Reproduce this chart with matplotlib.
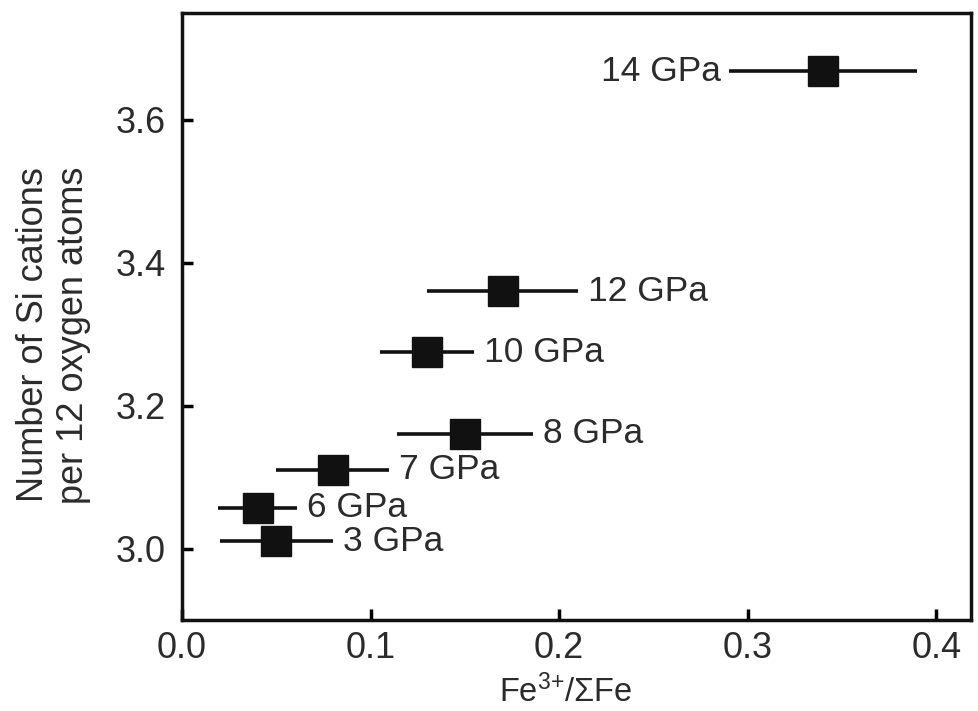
import matplotlib
matplotlib.use("Agg")
import matplotlib.pyplot as plt

# values
pressure_labels = ["3 GPa", "6 GPa", "7 GPa", "8 GPa", "10 GPa", "12 GPa", "14 GPa"]
fe3_ratio = [0.05, 0.04, 0.08, 0.15, 0.13, 0.17, 0.34]
fe3_err = [0.030, 0.021, 0.030, 0.036, 0.025, 0.040, 0.050]
si_cations = [3.010, 3.057, 3.110, 3.161, 3.275, 3.360, 3.668]
label_left = [False, False, False, False, False, False, True]

xticks = [0.0, 0.1, 0.2, 0.3, 0.4]
yticks = [3.0, 3.2, 3.4, 3.6]

plt.rcParams['font.family'] = ['Liberation Sans', 'DejaVu Sans']
plt.rcParams['mathtext.fontset'] = 'custom'
plt.rcParams['mathtext.rm'] = 'Liberation Sans'
plt.rcParams['mathtext.it'] = 'Liberation Sans'
plt.rcParams['mathtext.default'] = 'regular'
txt_col = '#2b2b2b'

fig = plt.figure(figsize=(9.79, 7.11), dpi=100)
ax = fig.add_axes([0.186, 0.128, 0.806, 0.854])

ax.errorbar(fe3_ratio, si_cations, xerr=fe3_err, fmt='s', color='#111111',
            markersize=21, elinewidth=2.6, capsize=0, zorder=3)

# pressure labels next to the bars
for x, y, e, lab, left in zip(fe3_ratio, si_cations, fe3_err, pressure_labels, label_left):
    if left:
        ax.annotate(lab, (x - e, y), xytext=(-6, 0), textcoords='offset points',
                    ha='right', va='center', fontsize=25.5, color=txt_col)
    else:
        ax.annotate(lab, (x + e, y), xytext=(7, 0), textcoords='offset points',
                    ha='left', va='center', fontsize=25.5, color=txt_col)

ax.set_xlim(0.0, 0.4185)
ax.set_ylim(2.9, 3.75)
ax.set_xticks(xticks)
ax.set_yticks(yticks)
ax.set_xticklabels([f"{t:.1f}" for t in xticks])
ax.set_yticklabels([f"{t:.1f}" for t in yticks])
ax.tick_params(direction='in', length=8, width=2.5, labelsize=26,
               labelcolor=txt_col)
ax.tick_params(axis='x', pad=8)
ax.tick_params(axis='y', pad=12)
for s in ax.spines.values():
    s.set_linewidth(2.5)
    s.set_color('#111111')

fig.text(566 / 979, 1 - 702 / 711, 'Fe$^{3\\!+}\\!$/\u03a3Fe', fontsize=23.5,
         color=txt_col, ha='center', va='baseline')
fig.text(53.5 / 979, 1 - 335 / 711, 'Number of Si cations\nper 12 oxygen atoms',
         fontsize=26, color=txt_col, rotation=90, ha='center', va='center',
         linespacing=1.15)

fig.savefig('out.png', dpi=100)
